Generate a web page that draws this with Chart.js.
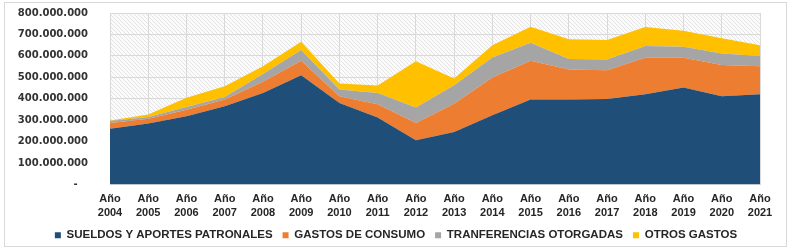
<!DOCTYPE html>
<html>
<head>
<meta charset="utf-8">
<script src="https://cdn.jsdelivr.net/npm/chart.js@4"></script>
<style>
  html, body { margin: 0; padding: 0; background: #fff; }
  #marco { position: absolute; left: 4px; top: 2px; width: 781px; height: 243px; border: 1px solid #d9d9d9; }
  #lienzo { position: absolute; left: 0; top: 0; }
</style>
</head>
<body>
<div id="marco"></div>
<canvas id="lienzo" width="792" height="251"></canvas>
<script>
// años del gráfico
var anios = ["2004","2005","2006","2007","2008","2009","2010","2011","2012","2013","2014","2015","2016","2017","2018","2019","2020","2021"];
// valores por serie (apilados)
var sueldos = [260e6, 284e6, 318e6, 365e6, 427e6, 510e6, 380e6, 312e6, 206e6, 245e6, 323e6, 396e6, 396e6, 399e6, 421e6, 452e6, 412e6, 421e6];
var consumo = [27e6, 23e6, 31e6, 31e6, 52e6, 67e6, 32e6, 62e6, 81e6, 132e6, 176e6, 181e6, 141e6, 134e6, 170e6, 139e6, 145e6, 131e6];
var transferencias = [9e6, 8e6, 13e6, 12e6, 36e6, 50e6, 31e6, 53e6, 72e6, 86e6, 94e6, 84e6, 48e6, 50e6, 55e6, 51e6, 54e6, 47e6];
var otros = [3e6, 12e6, 43e6, 50e6, 37e6, 39e6, 28e6, 35e6, 216e6, 31e6, 57e6, 75e6, 92e6, 91e6, 89e6, 75e6, 71e6, 51e6];
var nombresSeries = ["SUELDOS Y APORTES PATRONALES", "GASTOS DE CONSUMO", "TRANFERENCIAS OTORGADAS", "OTROS GASTOS"];
var colores = ["#1f4e79", "#ed7d31", "#a5a5a5", "#ffc000"];

// fondo rayado del área del gráfico
function rayado() {
    var c = document.createElement("canvas");
    c.width = 4; c.height = 4;
    var g = c.getContext("2d");
    g.fillStyle = "#fbfbfb";
    g.fillRect(0, 0, 4, 4);
    g.strokeStyle = "#e4e4e4";
    g.lineWidth = 1;
    g.beginPath();
    g.moveTo(0, 0); g.lineTo(4, 4);
    g.moveTo(-1, 3); g.lineTo(1, 5);
    g.moveTo(3, -1); g.lineTo(5, 1);
    g.stroke();
    return g.createPattern(c, "repeat");
}

const fondo = {
    id: "fondo",
    afterLayout(chart) {
        // centrar la leyenda en todo el ancho
        if (chart.legend) {
            chart.legend.left = 0;
            chart.legend.right = chart.width;
            chart.legend.width = chart.width;
        }
    },
    beforeDraw(chart) {
        const a = chart.chartArea;
        const ctx = chart.ctx;
        ctx.save();
        ctx.fillStyle = rayado();
        ctx.fillRect(a.left, a.top, a.right - a.left, a.bottom - a.top);
        ctx.restore();
    }
};

function miles(v) {
    if (v === 0) return "-   ";
    return String(Math.round(v)).replace(/\B(?=(\d{3})+(?!\d))/g, ".");
}

const series = [sueldos, consumo, transferencias, otros];
const datasets = series.map(function(s, i) {
    return {
        label: nombresSeries[i],
        data: s,
        backgroundColor: colores[i],
        borderColor: colores[i],
        borderWidth: 0,
        pointRadius: 0,
        fill: i === 0 ? "origin" : "-1",
        tension: 0
    };
});

const ctx = document.getElementById("lienzo").getContext("2d");
new Chart(ctx, {
    type: "line",
    data: {
        labels: anios.map(function(a) { return ["Año", a]; }),
        datasets: datasets
    },
    options: {
        responsive: false,
        animation: false,
        layout: { padding: { top: 13, left: 0, right: 32, bottom: 0 } },
        scales: {
            x: {
                offset: false,
                grid: { color: "#d9d9d9", drawTicks: false },
                border: { display: false },
                ticks: {
                    color: "#262626",
                    padding: 7,
                    maxRotation: 0,
                    autoSkip: false,
                    font: { family: "Liberation Sans", size: 11, weight: "bold", lineHeight: "14px" }
                },
                afterFit: function(s) { s.height = 35; }
            },
            y: {
                stacked: true,
                min: 0,
                max: 800000000,
                grid: { color: "#d9d9d9", drawTicks: true, tickLength: 19, tickColor: "rgba(0,0,0,0)" },
                border: { display: false },
                ticks: {
                    stepSize: 100000000,
                    color: "#333333",
                    padding: 3,
                    font: { family: "DejaVu Sans", size: 10, weight: "bold" },
                    callback: function(v) { return miles(v); }
                },
                afterFit: function(s) { s.width = 110; }
            }
        },
        plugins: {
            legend: {
                position: "bottom",
                labels: {
                    boxWidth: 6,
                    boxHeight: 6,
                    padding: 10,
                    color: "#262626",
                    font: { family: "Liberation Sans", size: 11.5, weight: "bold" }
                }
            },
            tooltip: { enabled: false }
        }
    },
    plugins: [fondo]
});
</script>
</body>
</html>
